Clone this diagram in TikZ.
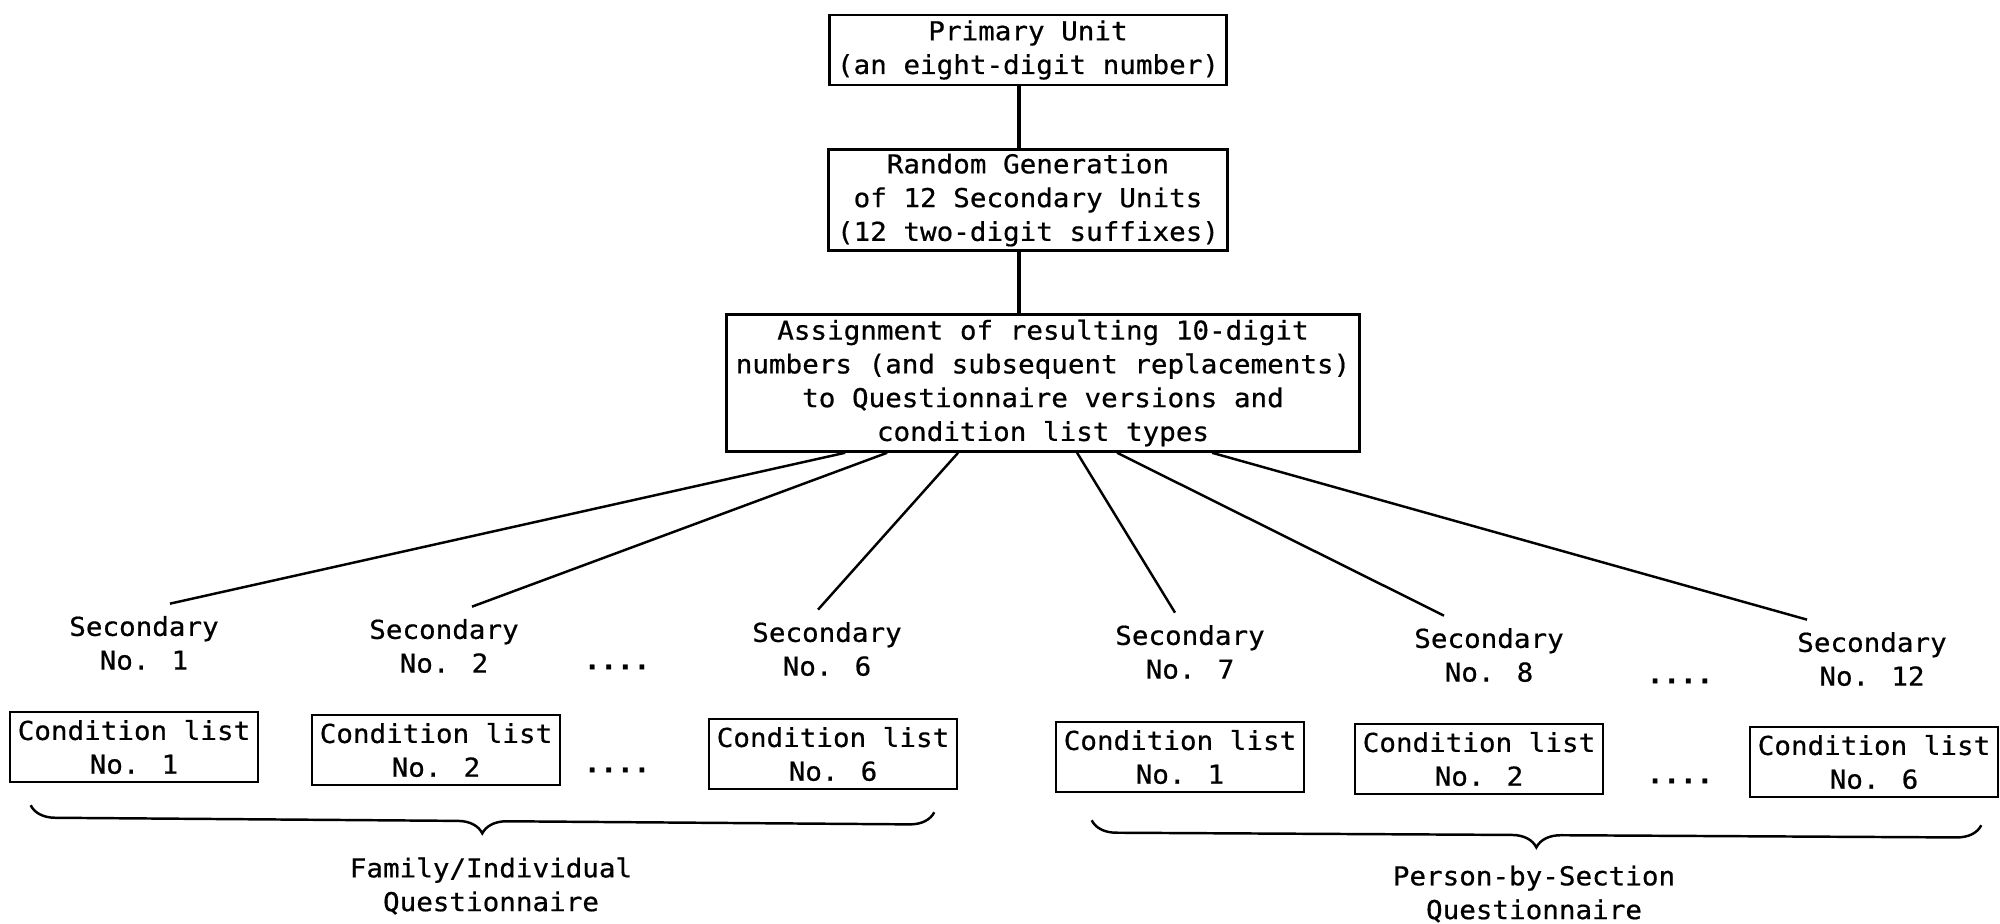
\documentclass[tikz,border=0pt]{standalone}
\usepackage{fontspec}
\newfontfamily\gothic[FakeStretch=1.06,FakeBold=0.6]{DejaVu Sans Mono}
\usetikzlibrary{calc,decorations.pathreplacing}

\begin{document}
\begin{tikzpicture}[x=0.01cm,y=-0.01cm,
    every node/.style={font=\fontsize{7.4pt}{9.6pt}\selectfont\gothic,align=center},
    box/.style={draw,line width=0.7pt,inner sep=1pt},
    clist/.style={box,minimum width=2.48cm,minimum height=0.70cm},
    link/.style={line width=0.7pt},
    brc/.style={decorate,decoration={brace,mirror,amplitude=7pt},line width=0.7pt}]
    \useasboundingbox (0,0) rectangle (2000,923);

    % the three boxes on top
    \node[box,minimum width=3.97cm,minimum height=0.70cm] (prim) at (1028,50) {Primary Unit\\(an eight-digit number)};
    \node[box,minimum width=3.99cm,minimum height=1.01cm] (rand) at (1028,200) {Random Generation\\of 12 Secondary Units\\(12 two-digit suffixes)};
    \node[box,minimum width=6.33cm,minimum height=1.37cm] (assign) at (1043,383) {Assignment of resulting 10-digit\\numbers (and subsequent replacements)\\to Questionnaire versions and\\condition list types};

    \draw[link,line width=0.9pt] ($(prim.south)+(-9,0)$) -- ($(rand.north)+(-9,0)$);
    \draw[link,line width=0.9pt] ($(rand.south)+(-9,0)$) -- ($(rand.south |- assign.north)+(-9,0)$);

    % secondaries
    \node (s1) at (144,643) {Secondary\\No. 1};
    \node (s2) at (444,646) {Secondary\\No. 2};
    \node (s6) at (827,649) {Secondary\\No. 6};
    \node (s7) at (1190,652) {Secondary\\No. 7};
    \node (s8) at (1489,655) {Secondary\\No. 8};
    \node (s12) at (1872,659) {Secondary\\No. 12};
    \node (d1) at (617,667) {\bfseries ....};
    \node (d2) at (1680,681) {\bfseries ....};

    \draw[link] ($(assign.south west)+(120,0)$) -- ($(s1.north)+(26,0)$);
    \draw[link] ($(assign.south west)+(162,0)$) -- ($(s2.north)+(28,0)$);
    \draw[link] ($(assign.south west)+(233,0)$) -- ($(s6.north)+(-9,0)$);
    \draw[link] ($(assign.south west)+(352,0)$) -- ($(s7.north)+(-15,0)$);
    \draw[link] ($(assign.south west)+(392,0)$) -- ($(s8.north)+(-45,0)$);
    \draw[link] ($(assign.south west)+(487,0)$) -- ($(s12.north)+(-65,0)$);

    % condition lists
    \node[clist] (c1) at (134,747) {Condition list\\No. 1};
    \node[clist] (c2) at (436,750) {Condition list\\No. 2};
    \node[clist] (c6) at (833,754) {Condition list\\No. 6};
    \node[clist] (c7) at (1180,757) {Condition list\\No. 1};
    \node[clist] (c8) at (1479,759) {Condition list\\No. 2};
    \node[clist] (c12) at (1874,762) {Condition list\\No. 6};
    \node (d3) at (617,770) {\bfseries ....};
    \node (d4) at (1680,781) {\bfseries ....};

    % braces and questionnaire names
    \draw[brc] ($(c1.south west)+(22,22)$) -- ($(c6.south east)+(-24,22)$);
    \draw[brc] ($(c7.south west)+(37,27)$) -- ($(c12.south east)+(-18,27)$);
    \node (fam) at (491,886) {Family/Individual\\Questionnaire};
    \node (pbs) at (1534,894) {Person-by-Section\\Questionnaire};
\end{tikzpicture}
\end{document}
